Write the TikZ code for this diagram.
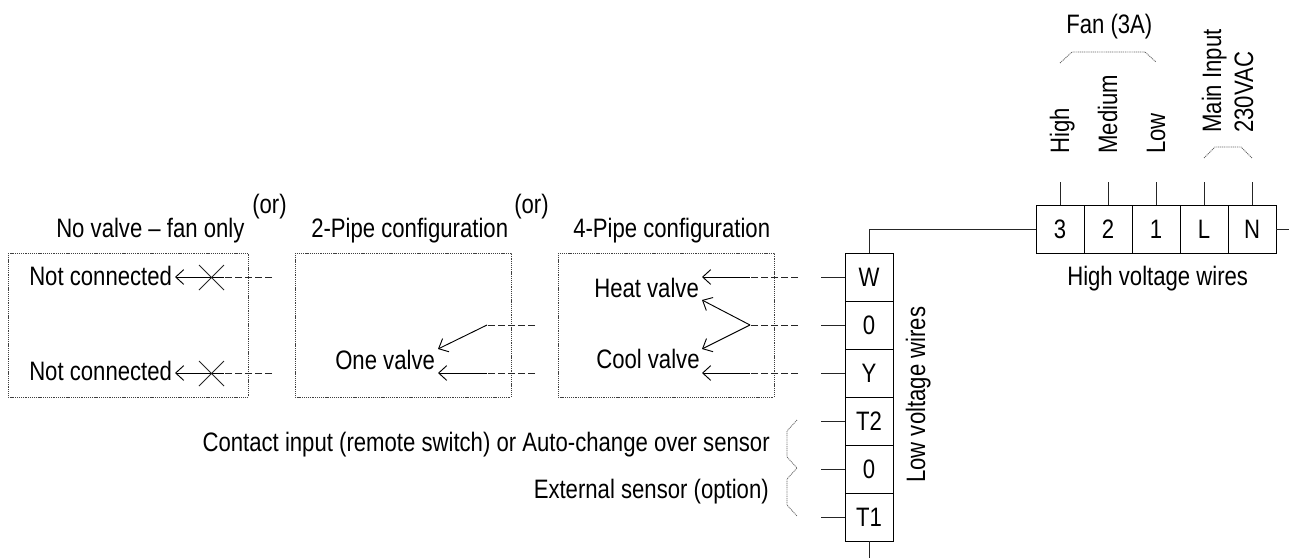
\documentclass[tikz,border=0pt]{standalone}
\usepackage{fontspec}
\setmainfont[FakeStretch=0.83]{Liberation Sans}
\usetikzlibrary{arrows.meta}
\tikzstyle{cell} = [rectangle, minimum width=36pt, minimum height=36pt, inner sep=0pt, outer sep=0pt, text centered, draw=black, line width=0.7pt]
\tikzstyle{panel} = [draw=black!75, line width=0.6pt, dash pattern=on 0.8pt off 0.6pt]
\tikzstyle{brace} = [draw=black!60, line width=0.6pt, dash pattern=on 0.8pt off 0.6pt]
\tikzstyle{caption} = [inner sep=0pt, anchor=base west]
\tikzstyle{captionr} = [inner sep=0pt, anchor=base east]
\tikzstyle{vcaption} = [inner sep=0pt, anchor=base west, rotate=90]
\tikzstyle{wire} = [line width=0.7pt, draw=black!85]
\tikzstyle{dashwire} = [line width=0.7pt, draw=black!85, dash pattern=on 5pt off 2.5pt]
\tikzstyle{arrow} = [line width=0.7pt, ->, >={Straight Barb[length=6pt,width=11pt]}]

\begin{document}
\begin{tikzpicture}[x=0.75pt, y=-0.75pt, node distance=36pt, font=\fontsize{20}{22}\selectfont]
\useasboundingbox (0,0) rectangle (1289,558);

% low voltage terminals
\node (w) [cell] at (869,277) {W};
\node (zeroa) [cell, below of=w] {0};
\node (y) [cell, below of=zeroa] {Y};
\node (ttwo) [cell, below of=y] {T2};
\node (zerob) [cell, below of=ttwo] {0};
\node (tone) [cell, below of=zerob] {T1};

% high voltage terminals
\node (three) [cell] at (1060,229) {3};
\node (two) [cell, right of=three] {2};
\node (one) [cell, right of=two] {1};
\node (line) [cell, right of=one] {L};
\node (neutral) [cell, right of=line] {N};

% panels
\draw [panel] (8,253) rectangle (248,397);
\draw [panel] (295,253) rectangle (511,397);
\draw [panel] (558,253) rectangle (774,397);

% titles
\node (nofan) [caption] at (56,237) {No valve -- fan only};
\node (ora) [caption] at (252,213) {(or)};
\node (twopipe) [caption] at (311,237) {2-Pipe configuration};
\node (orb) [caption] at (514,213) {(or)};
\node (fourpipe) [caption] at (573,237) {4-Pipe configuration};

% panel texts
\node (nca) [caption] at (29,285) {Not connected};
\node (ncb) [caption] at (29,380) {Not connected};
\node (onevalve) [caption] at (335,369) {One valve};
\node (heat) [caption] at (594,297) {Heat valve};
\node (cool) [caption] at (596,368) {Cool valve};
\node (contact) [captionr] at (770,451) {Contact input (remote switch) or Auto-change over sensor};
\node (external) [captionr] at (769,498) {External sensor (option)};
\node (lowv) [vcaption] at (925,483) {Low voltage wires};
\node (highv) [caption] at (1067,285) {High voltage wires};
\node (fan) [caption] at (1066,33) {Fan (3A)};
\node (high) [vcaption] at (1069,154) {High};
\node (medium) [vcaption] at (1117,154) {Medium};
\node (low) [vcaption] at (1165,154) {Low};
\node (mainin) [vcaption] at (1221,133) {Main Input};
\node (volt) [vcaption] at (1253,133) {230VAC};

% free ends of the wires
\coordinate (wstub) at (821,277);
\coordinate (zastub) at (821,325);
\coordinate (ystub) at (821,373);
\coordinate (tstub) at (821,421);
\coordinate (zbstub) at (821,469);
\coordinate (onestub) at (821,517);
\coordinate (botstub) at (869,558);
\coordinate (rightstub) at (1289,229);
\coordinate (ups) at (1060,182);
\coordinate (upm) at (1108,182);
\coordinate (upl) at (1156,182);
\coordinate (upa) at (1204,182);
\coordinate (upb) at (1252,182);

\draw [wire] (w.west) -- (wstub);
\draw [wire] (zeroa.west) -- (zastub);
\draw [wire] (y.west) -- (ystub);
\draw [wire] (ttwo.west) -- (tstub);
\draw [wire] (zerob.west) -- (zbstub);
\draw [wire] (tone.west) -- (onestub);
\draw [wire] (tone.south) -- (botstub);
\draw [wire] (w.north) |- (three.west);
\draw [wire] (neutral.east) -- (rightstub);
\draw [wire] (three.north) -- (ups);
\draw [wire] (two.north) -- (upm);
\draw [wire] (one.north) -- (upl);
\draw [wire] (line.north) -- (upa);
\draw [wire] (neutral.north) -- (upb);

% no valve
\coordinate (ncaj) at (224,277);
\coordinate (ncbj) at (224,373);
\draw [arrow] (ncaj) -- (175,277);
\draw [arrow] (ncbj) -- (175,373);
\draw [dashwire] (272,277) -- (ncaj);
\draw [dashwire] (272,373) -- (ncbj);
\draw [wire] (199,265) -- (224,290);
\draw [wire] (199,290) -- (224,265);
\draw [wire] (199,361) -- (224,386);
\draw [wire] (199,386) -- (224,361);

% one valve
\coordinate (ovaj) at (487,325);
\coordinate (ovbj) at (487,373);
\draw [arrow] (ovaj) -- (438,349);
\draw [arrow] (ovbj) -- (438,373);
\draw [dashwire] (535,325) -- (ovaj);
\draw [dashwire] (535,373) -- (ovbj);

% heat and cool valves
\coordinate (hvj) at (750,277);
\coordinate (mvj) at (750,325);
\coordinate (cvj) at (750,373);
\draw [arrow] (hvj) -- (702,277);
\draw [arrow] (mvj) -- (702,300);
\draw [arrow] (mvj) -- (702,349);
\draw [arrow] (cvj) -- (702,373);
\draw [dashwire] (798,277) -- (hvj);
\draw [dashwire] (798,325) -- (mvj);
\draw [dashwire] (798,373) -- (cvj);

% brackets
\draw [brace] (797,420) -- (787,431) -- (787,457) -- (797,468) -- (787,479) -- (787,505) -- (797,516);
\draw [brace] (1060,63) -- (1072,52) -- (1145,52) -- (1156,62);
\draw [brace] (1204,158) -- (1215,147) -- (1241,147) -- (1252,158);

\end{tikzpicture}
\end{document}
